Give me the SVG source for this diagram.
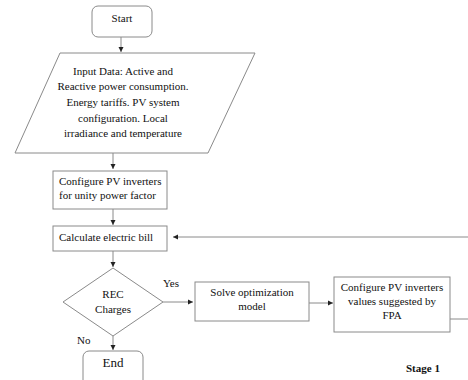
<svg xmlns="http://www.w3.org/2000/svg" width="468" height="380" viewBox="0 0 468 380">
<defs>
<marker id="ah" markerWidth="6" markerHeight="6" refX="5" refY="3" orient="auto" markerUnits="userSpaceOnUse">
<path d="M0,0.5 L5,3 L0,5.5 Z" fill="#222"/>
</marker>
</defs>
<style>
.s{fill:#fff;stroke:#8a8a8a;stroke-width:1}
.c{fill:none;stroke:#8a8a8a;stroke-width:1}
.m{text-anchor:middle}
</style>
<rect width="468" height="380" fill="#fff"/>
<g font-family="Times New Roman, Liberation Serif, serif" font-size="11" fill="#111">
<g id="connectors">
<line class="c" x1="121" y1="37" x2="121" y2="52" marker-end="url(#ah)"/>
<line class="c" x1="113" y1="153" x2="113" y2="169" marker-end="url(#ah)"/>
<line class="c" x1="113" y1="209" x2="113" y2="225" marker-end="url(#ah)"/>
<line class="c" x1="113" y1="251" x2="113" y2="267" marker-end="url(#ah)"/>
<line class="c" x1="113" y1="336" x2="113" y2="350" marker-end="url(#ah)"/>
<line class="c" x1="163" y1="302" x2="193" y2="302" marker-end="url(#ah)"/>
<line class="c" x1="309" y1="303" x2="333" y2="303" marker-end="url(#ah)"/>
<line class="c" x1="468" y1="237" x2="173" y2="237" marker-end="url(#ah)"/>
<line class="c" x1="450" y1="319" x2="468" y2="319"/>
<text x="163" y="287">Yes</text>
<text x="77" y="344">No</text>
</g>
<g id="start">
<rect class="s" x="92" y="6" width="60" height="31" rx="6"/>
<text class="m" x="122" y="22">Start</text>
</g>
<g id="input">
<polygon class="s" points="60,53 255,53 208,153 15,153"/>
<text class="m" x="123" y="75">Input Data: Active and</text>
<text class="m" x="123" y="90">Reactive power consumption.</text>
<text class="m" x="123" y="106">Energy tariffs. PV system</text>
<text class="m" x="123" y="122">configuration. Local</text>
<text class="m" x="123" y="137">irradiance and temperature</text>
</g>
<g id="config-unity">
<rect class="s" x="53" y="171" width="114" height="38"/>
<text x="59" y="185">Configure PV inverters</text>
<text x="59" y="199">for unity power factor</text>
</g>
<g id="calc-bill">
<rect class="s" x="53" y="226" width="114" height="25"/>
<text x="59" y="241">Calculate electric bill</text>
</g>
<g id="rec-charges">
<polygon class="s" points="113,268 163,302 113,336 63,302"/>
<text class="m" x="113" y="298">REC</text>
<text class="m" x="113" y="313">Charges</text>
</g>
<g id="solve">
<rect class="s" x="195" y="282" width="114" height="39"/>
<text class="m" x="252" y="296">Solve optimization</text>
<text class="m" x="252" y="310">model</text>
</g>
<g id="config-fpa">
<rect class="s" x="334" y="277" width="116" height="55"/>
<text class="m" x="392" y="291">Configure PV inverters</text>
<text class="m" x="392" y="305">values suggested by</text>
<text class="m" x="392" y="319">FPA</text>
</g>
<g id="end">
<rect class="s" x="83" y="351" width="60" height="40" rx="6"/>
<text class="m" x="113" y="367" font-size="13">End</text>
</g>
<text font-weight="bold" x="406" y="372">Stage 1</text>
</g>
</svg>
